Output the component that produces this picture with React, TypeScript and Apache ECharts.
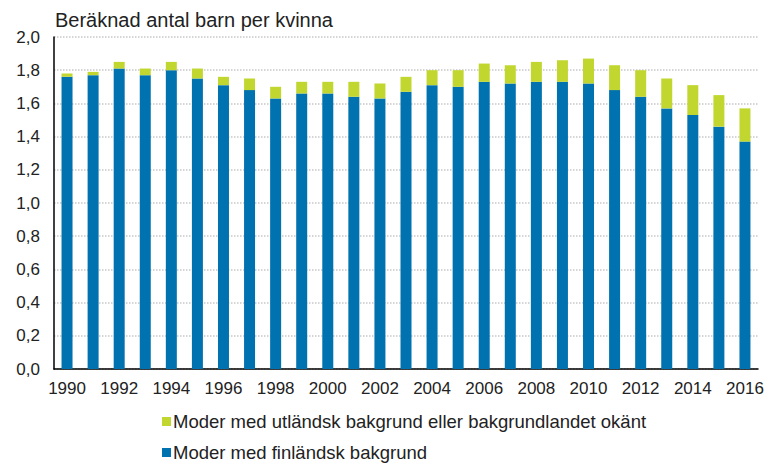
import React, { useEffect, useRef } from "react";
import * as echarts from "echarts";

const years = ["1990","1991","1992","1993","1994","1995","1996","1997","1998","1999","2000","2001","2002","2003","2004","2005","2006","2007","2008","2009","2010","2011","2012","2013","2014","2015","2016"];
const finnish = [1.76,1.77,1.81,1.77,1.80,1.75,1.71,1.68,1.63,1.66,1.66,1.64,1.63,1.67,1.71,1.70,1.73,1.72,1.73,1.73,1.72,1.68,1.64,1.57,1.53,1.46,1.37];
const foreign = [0.02,0.02,0.04,0.04,0.05,0.06,0.05,0.07,0.07,0.07,0.07,0.09,0.09,0.09,0.09,0.10,0.11,0.11,0.12,0.13,0.15,0.15,0.16,0.18,0.18,0.19,0.20];
const seriesNames = ["Moder med finländsk bakgrund", "Moder med utländsk bakgrund eller bakgrundlandet okänt"];
const title = "Beräknad antal barn per kvinna";

const FONT = "Liberation Sans, Arial, sans-serif";

const legendBase = {
  orient: "horizontal",
  left: 157,
  itemWidth: 9,
  itemHeight: 9,
  icon: "rect",
  textStyle: { fontSize: 18.5, color: "#222", fontFamily: FONT, padding: [0, 0, 0, -3] },
};

export default function App() {
  const ref = useRef<HTMLDivElement>(null);
  useEffect(() => {
    const chart = echarts.init(ref.current!, null, { renderer: "svg" });
    chart.setOption({
      animation: false,
      textStyle: { fontFamily: FONT },
      title: {
        text: title,
        left: 50,
        top: 5,
        textStyle: { fontSize: 20, fontWeight: "normal", color: "#222", fontFamily: FONT },
      },
      grid: { left: 54, right: 13, top: 37, bottom: 94 },
      legend: [
        { ...legendBase, top: 407, data: [seriesNames[1]] },
        { ...legendBase, top: 438, data: [seriesNames[0]] },
      ],
      xAxis: {
        type: "category",
        data: years,
        axisLine: { lineStyle: { color: "#000", width: 1.5 } },
        axisTick: { show: false },
        axisLabel: { interval: 1, fontSize: 17, color: "#222", margin: 11, fontFamily: FONT },
      },
      yAxis: {
        type: "value",
        min: 0,
        max: 2,
        interval: 0.2,
        axisLine: { show: true, lineStyle: { color: "#000", width: 1.5 } },
        axisTick: { show: false },
        axisLabel: {
          fontSize: 17,
          color: "#222",
          margin: 14,
          fontFamily: FONT,
          formatter: (v: number) => v.toFixed(1).replace(".", ","),
        },
        splitLine: { lineStyle: { color: "#c8c8c8", type: "dotted", width: 1.5 } },
      },
      series: [
        {
          name: seriesNames[0],
          type: "bar",
          stack: "t",
          data: finnish,
          barWidth: 11,
          itemStyle: { color: "#0072B0" },
        },
        {
          name: seriesNames[1],
          type: "bar",
          stack: "t",
          data: foreign,
          barWidth: 11,
          itemStyle: { color: "#C1D72F" },
        },
      ],
    });
    return () => chart.dispose();
  }, []);
  return <div ref={ref} style={{ width: 771, height: 463, position: "absolute", left: 0, top: 0 }} />;
}
